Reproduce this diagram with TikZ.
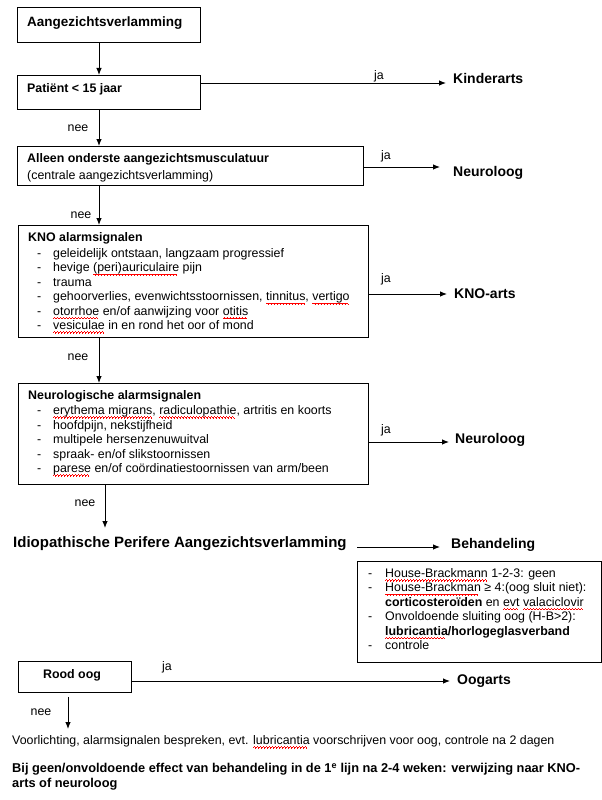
\documentclass[tikz,border=0pt]{standalone}
\usepackage{fontspec}
\setmainfont{Liberation Sans}
\usetikzlibrary{arrows.meta}
\newsavebox\wavebox
\sbox\wavebox{\textcolor{red}{\rule[-3.0pt]{0.75pt}{0.6pt}\rule[-2.4pt]{0.75pt}{0.6pt}\rule[-3.0pt]{0.75pt}{0.6pt}\rule[-3.6pt]{0.75pt}{0.6pt}}}
\newcommand\spl[1]{\setbox0\hbox{#1}\rlap{\hbox to\wd0{\leaders\copy\wavebox\hfill}}\box0\relax}
\newcommand\itm[2][16pt]{\makebox[#1][l]{-}#2}
\begin{document}
\begin{tikzpicture}[x=1pt,y=-1pt,
  box/.style={draw=black, line width=0.9pt, inner sep=0pt, anchor=north west},
  arr/.style={draw=black, line width=0.9pt, -{Latex[length=7pt,width=5.5pt]}},
  txt/.style={inner sep=0pt, anchor=base west, font=\fontsize{12.4}{14.4}\selectfont},
  btxt/.style={inner sep=0pt, anchor=base west, font=\fontsize{12.4}{14.4}\selectfont\bfseries},
  dest/.style={inner sep=0pt, anchor=base west, font=\fontsize{14}{16}\selectfont\bfseries},
  lbl/.style={inner sep=0pt, anchor=base, font=\fontsize{12.4}{14.4}\selectfont}]
\useasboundingbox (0,0) rectangle (602,800);
% boxes
\node[box, minimum width=183pt, minimum height=35pt] (B1) at (17,7) {};
\node[box, minimum width=183pt, minimum height=34pt] (B2) at (17,75) {};
\node[box, minimum width=346pt, minimum height=39pt] (B3) at (17,146) {};
\node[box, minimum width=350pt, minimum height=112pt] (KNO) at (18,225) {};
\node[box, minimum width=350pt, minimum height=101pt] (NEU) at (18,383) {};
\node[box, minimum width=244pt, minimum height=101pt] (BEH) at (357,561) {};
\node[box, minimum width=113pt, minimum height=31pt] (ROOD) at (18,661) {};
% texts in boxes
\node[btxt, font=\fontsize{13.5}{16}\selectfont\bfseries] (t1) at (27,27) {Aangezichtsverlamming};
\node[btxt] (t2) at (27,92.5) {Patiënt < 15 jaar};
\node[btxt] (t3a) at (27,162.5) {Alleen onderste aangezichtsmusculatuur};
\node[txt] (t3b) at (27,179.5) {(centrale aangezichtsverlamming)};
\node[btxt] (t4) at (28,241.5) {KNO alarmsignalen};
\node[txt] (l4) at (37,257.5) {\begin{tabular}[t]{@{}l@{}}
\itm{geleidelijk ontstaan, langzaam progressief}\\
\itm{hevige \spl{(peri)auriculaire} pijn}\\
\itm{trauma}\\
\itm{gehoorverlies, evenwichtsstoornissen, \spl{tinnitus}, \spl{vertigo}}\\
\itm{\spl{otorrhoe} en/of aanwijzing voor \spl{otitis}}\\
\itm{\spl{vesiculae} in en rond het oor of mond}
\end{tabular}};
\node[btxt] (t5) at (28,399.5) {Neurologische alarmsignalen};
\node[txt, font=\fontsize{12.4}{14.5}\selectfont] (l5) at (37,414.5) {\begin{tabular}[t]{@{}l@{}}
\itm{\spl{erythema migrans}, \spl{radiculopathie}, artritis en koorts}\\
\itm{hoofdpijn, nekstijfheid}\\
\itm{multipele hersenzenuwuitval}\\
\itm{spraak- en/of slikstoornissen}\\
\itm{\spl{parese} en/of coördinatiestoornissen van arm/been}
\end{tabular}};
\node[txt] (l6) at (368,577.5) {\begin{tabular}[t]{@{}l@{}}
\itm[17pt]{\spl{House-Brackmann} 1-2-3: geen}\\
\itm[17pt]{\spl{House-Brackman} ≥ 4:(oog sluit niet):}\\
\hspace*{17pt}\textbf{corticosteroïden} en \spl{evt} \spl{valaciclovir}\\
\itm[17pt]{Onvoldoende sluiting oog (H-B>2):}\\
\hspace*{17pt}\textbf{\spl{lubricantia}/horlogeglasverband}\\
\itm[17pt]{controle}
\end{tabular}};
\node[inner sep=0pt, anchor=base, font=\fontsize{12.4}{14.4}\selectfont\bfseries] (t7) at (72,678.5) {Rood oog};
% free text
\node[btxt, font=\fontsize{15}{18}\selectfont\bfseries] (I) at (13,547.4) {Idiopathische Perifere Aangezichtsverlamming};
\node[txt] (V) at (12,744.5) {Voorlichting, alarmsignalen bespreken, evt. \spl{lubricantia} voorschrijven voor oog, controle na 2 dagen};
\node[btxt, font=\fontsize{12.8}{15}\selectfont\bfseries] (W1) at (12,772.5) {Bij geen/onvoldoende effect van behandeling in de 1\textsuperscript{e} lijn na 2-4 weken: verwijzing naar KNO-};
\node[btxt, font=\fontsize{12.8}{15}\selectfont\bfseries] (W2) at (12,787.5) {arts of neuroloog};
% destinations
\node[dest] (K) at (453,84) {Kinderarts};
\node[dest] (N1) at (453,176) {Neuroloog};
\node[dest] (KA) at (454,298) {KNO-arts};
\node[dest] (N2) at (455,443) {Neuroloog};
\node[dest] (BH) at (451,548) {Behandeling};
\node[dest] (O) at (457,684) {Oogarts};
% labels
\node[lbl] (j1) at (379,79.5) {ja};
\node[lbl] (j2) at (386,159.5) {ja};
\node[lbl] (j3) at (386,282.5) {ja};
\node[lbl] (j4) at (386,433.5) {ja};
\node[lbl] (j5) at (167,670.5) {ja};
\node[lbl] (n1) at (78,131.5) {nee};
\node[lbl] (n2) at (81,218.5) {nee};
\node[lbl] (n3) at (78,360.5) {nee};
\node[lbl] (n4) at (85,506.5) {nee};
\node[lbl] (n5) at (41,715.5) {nee};
% coordinates
\coordinate (cx) at (99,0);
\coordinate (cy) at (105,0);
\coordinate (e5) at (105,528);
\coordinate (e6) at (68,729);
% vertical arrows
\draw[arr] (B1.south -| cx) -- (B2.north -| cx);
\draw[arr] (B2.south -| cx) -- (B3.north -| cx);
\draw[arr] (B3.south -| cx) -- (KNO.north -| cx);
\draw[arr] (KNO.south -| cx) -- (NEU.north -| cx);
\draw[arr] (NEU.south -| cy) -- (e5);
\draw[arr, shorten <=4pt] (ROOD.south -| e6) -- (e6);
% horizontal arrows
\draw[arr, shorten >=7pt] (B2.east |- 0,83) -- (K.west |- 0,83);
\draw[arr, shorten >=13pt] (B3.east |- 0,167) -- (N1.west |- 0,167);
\draw[arr, shorten >=7pt] (KNO.east |- 0,294) -- (KA.west |- 0,294);
\draw[arr, shorten >=6pt] (NEU.east |- 0,442) -- (N2.west |- 0,442);
\draw[arr, shorten >=11pt] (BEH.west |- 0,547) -- (BH.west |- 0,547);
\draw[arr, shorten >=7pt] (ROOD.east |- 0,681) -- (O.west |- 0,681);
\end{tikzpicture}
\end{document}
